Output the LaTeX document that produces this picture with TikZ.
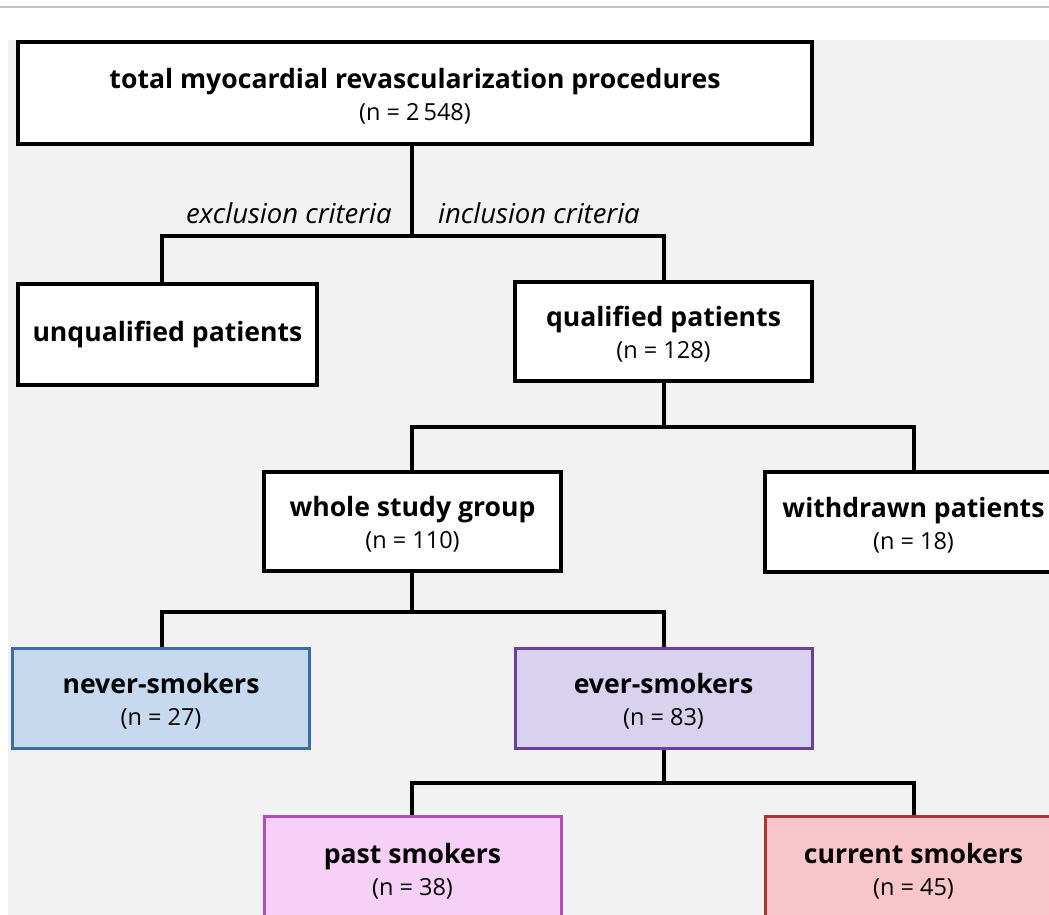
\documentclass[tikz,border=0pt]{standalone}
\usepackage{fontspec}
\setmainfont{Open Sans}
\definecolor{bgc}{HTML}{F2F2F2}
\definecolor{topline}{HTML}{C4C4C4}
\definecolor{neverfill}{HTML}{C6D9EF}
\definecolor{neverdraw}{HTML}{3A6DA8}
\definecolor{everfill}{HTML}{D9D2EE}
\definecolor{everdraw}{HTML}{6B3FA0}
\definecolor{pastfill}{HTML}{F6D0F6}
\definecolor{pastdraw}{HTML}{B44BB8}
\definecolor{curfill}{HTML}{F8C6CA}
\definecolor{curdraw}{HTML}{B33232}
\newcommand{\bt}[1]{{\bfseries\fontsize{26.6}{32}\selectfont #1}}
\newcommand{\btt}[1]{{\bfseries\fontsize{26.6}{32}\selectfont\rule{0pt}{26pt}#1}}
\newcommand{\nt}[1]{{\fontsize{23.5}{32}\selectfont\rule{0pt}{19pt}#1}}
\tikzset{
  box/.style={draw=black, fill=white, line width=3.3pt, align=center, inner sep=0pt,
              minimum width=297pt, minimum height=100pt, font=\fontsize{23.5}{32}\selectfont},
  cbox/.style={box, line width=3pt},
  conn/.style={draw=black, line width=3.3pt},
  lbl/.style={font=\itshape\fontsize{27.5}{30}\selectfont, inner sep=0pt}
}
\begin{document}
\begin{tikzpicture}[x=1pt,y=-1pt]
\useasboundingbox (0,0) rectangle (1049,915);
\clip (0,0) rectangle (1049,915);
\fill[white] (0,0) rectangle (1049,915);
\draw[topline, line width=1.5pt] (0,7) -- (1049,7);
\fill[bgc] (8,40) rectangle (1049,915);

% boxes
\node[box, minimum width=794pt, minimum height=102pt] (top) at (415,93)
  {\btt{total myocardial revascularization procedures}\\\nt{(n = 2\,548)}};
\node[box, minimum width=299pt, minimum height=101pt] (unq) at (167.5,334.5)
  {\bt{unqualified patients}};
\node[box, minimum height=99pt] (qual) at (663.5,331.5)
  {\btt{qualified patients}\\\nt{(n = 128)}};
\node[box, minimum height=99pt] (whole) at (412.5,521.5)
  {\btt{whole study group}\\\nt{(n = 110)}};
\node[box] (withd) at (913.5,522)
  {\btt{withdrawn patients}\\\nt{(n = 18)}};
\node[cbox, draw=neverdraw, fill=neverfill] (never) at (161,698)
  {\btt{never-smokers}\\\nt{(n = 27)}};
\node[cbox, draw=everdraw, fill=everfill] (ever) at (663.5,698)
  {\btt{ever-smokers}\\\nt{(n = 83)}};
\node[cbox, draw=pastdraw, fill=pastfill, minimum height=104pt] (past) at (412.5,868)
  {\btt{past smokers}\\\nt{(n = 38)}};
\node[cbox, draw=curdraw, fill=curfill, minimum height=104pt] (cur) at (913.5,868)
  {\btt{current smokers}\\\nt{(n = 45)}};

% junctions
\coordinate (j1) at (412,236);
\coordinate (j1l) at (162,236);
\coordinate (j1r) at (664,236);
\coordinate (j2) at (664,427);
\coordinate (j2l) at (412,427);
\coordinate (j2r) at (914,427);
\coordinate (j3) at (412,612);
\coordinate (j3l) at (162,612);
\coordinate (j3r) at (664,612);
\coordinate (j4) at (664,783);
\coordinate (j4l) at (412,783);
\coordinate (j4r) at (914,783);

\draw[conn] (top.south -| j1) -- (j1);
\draw[conn] (unq.north -| j1l) -- (j1l) -- (j1r) -- (qual.north -| j1r);
\draw[conn] (qual.south -| j2) -- (j2);
\draw[conn] (whole.north -| j2l) -- (j2l) -- (j2r) -- (withd.north -| j2r);
\draw[conn] (whole.south -| j3) -- (j3);
\draw[conn] (never.north -| j3l) -- (j3l) -- (j3r) -- (ever.north -| j3r);
\draw[conn] (ever.south -| j4) -- (j4);
\draw[conn] (past.north -| j4l) -- (j4l) -- (j4r) -- (cur.north -| j4r);

\node[lbl, anchor=east] (excl) at (392,213) {exclusion criteria};
\node[lbl, anchor=west] (incl) at (438,213) {inclusion criteria};
\end{tikzpicture}
\end{document}
